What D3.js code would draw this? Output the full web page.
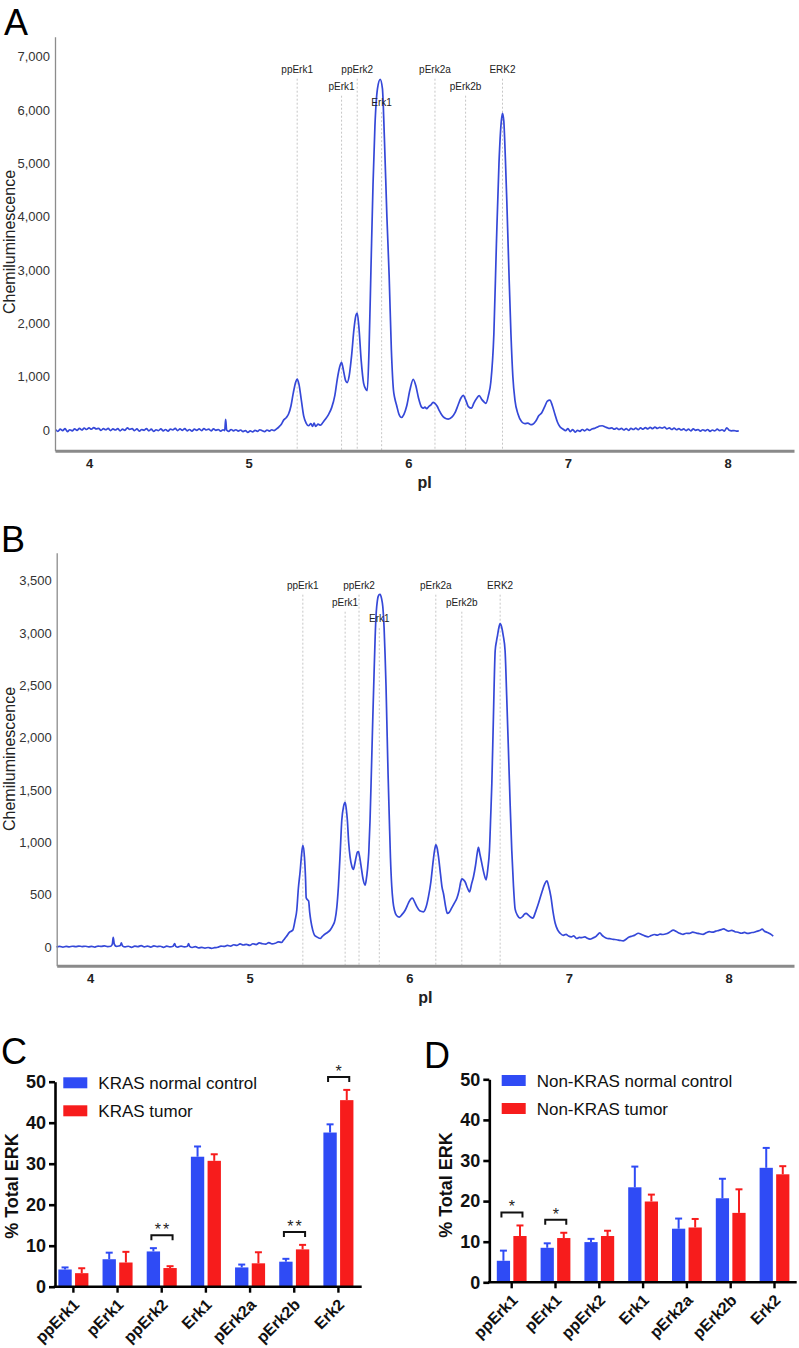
<!DOCTYPE html>
<html><head><meta charset="utf-8">
<script src="https://cdn.jsdelivr.net/npm/d3@7"></script>
<style>body{margin:0;background:#fff} svg{display:block}</style>
</head><body><svg id="c" width="799" height="1348"></svg>
<script>
// ---------------- DATA ----------------
const markerNames = ["ppErk1","pErk1","ppErk2","Erk1","pErk2a","pErk2b","ERK2"];
const markerPI_A = [5.304,5.582,5.680,5.833,6.167,6.359,6.590];
const markerPI_B = [5.333,5.598,5.685,5.812,6.166,6.329,6.569];
const yTicksA = [0,1000,2000,3000,4000,5000,6000,7000];
const yTicksB = [0,500,1000,1500,2000,2500,3000,3500];
const xTicksPI = [4,5,6,7,8];

const traceA = [[3.79,10],[3.805,-25],[3.82,15],[3.835,-10],[3.85,25],[3.865,-30],[3.88,5],[3.895,-15],[3.91,20],[3.925,-5],[3.94,30],[3.955,0],[3.97,35],[3.985,10],[4.0,40],[4.015,15],[4.03,45],[4.045,20],[4.06,30],[4.075,-5],[4.09,25],[4.105,5],[4.12,30],[4.135,-10],[4.15,20],[4.165,0],[4.18,25],[4.195,-15],[4.21,15],[4.225,-5],[4.24,40],[4.255,10],[4.27,25],[4.285,-10],[4.3,20],[4.315,-20],[4.33,10],[4.345,-5],[4.36,25],[4.375,-15],[4.39,15],[4.405,-25],[4.42,5],[4.435,-10],[4.45,20],[4.465,-15],[4.48,10],[4.495,-20],[4.51,15],[4.525,0],[4.54,30],[4.555,-10],[4.57,20],[4.585,-5],[4.6,25],[4.615,-15],[4.63,10],[4.645,-20],[4.66,15],[4.675,-5],[4.69,20],[4.705,-10],[4.72,25],[4.735,0],[4.75,15],[4.765,-15],[4.78,20],[4.795,-5],[4.81,10],[4.825,-20],[4.84,5],[4.85,-10],[4.856,200],[4.862,0],[4.875,-25],[4.89,10],[4.905,-15],[4.92,5],[4.935,-20],[4.95,0],[4.965,-30],[4.98,-10],[4.995,-45],[5.01,-15],[5.025,-35],[5.04,-5],[5.055,-25],[5.07,5],[5.085,-15],[5.1,-30],[5.115,0],[5.13,-20],[5.145,5],[5.16,-10],[5.175,20],[5.19,60],
[5.205,110],[5.22,190],[5.235,230],[5.25,300],[5.265,450],[5.28,700],[5.295,900],[5.304,955],[5.315,860],[5.33,560],[5.345,260],[5.36,130],[5.375,80],[5.39,120],[5.4,70],[5.41,130],[5.42,70],[5.435,110],[5.45,90],[5.465,140],[5.48,200],[5.5,290],[5.52,420],[5.54,650],[5.555,950],[5.57,1180],[5.582,1270],[5.595,1100],[5.608,920],[5.617,890],[5.63,1020],[5.645,1400],[5.66,1900],[5.672,2150],[5.68,2190],[5.69,1950],[5.705,1300],[5.72,880],[5.735,760],[5.743,740],[5.754,1500],[5.766,3000],[5.779,4600],[5.791,5700],[5.807,6400],[5.824,6575],[5.838,6400],[5.85,5500],[5.866,4000],[5.88,2900],[5.894,1500],[5.907,750],[5.915,600],[5.927,460],[5.941,300],[5.957,235],[5.972,290],[5.99,450],[6.01,750],[6.031,950],[6.048,820],[6.064,600],[6.083,430],[6.095,410],[6.104,430],[6.115,400],[6.128,440],[6.142,470],[6.155,520],[6.167,500],[6.18,450],[6.195,360],[6.21,280],[6.226,230],[6.25,205],[6.273,240],[6.292,320],[6.311,460],[6.33,600],[6.344,650],[6.36,560],[6.376,440],[6.396,410],[6.41,500],[6.43,600],[6.444,645],[6.461,570],[6.477,520],[6.486,500],[6.502,650],[6.517,900],[6.536,1800],[6.552,3500],[6.568,5000],[6.583,5800],[6.59,5940],[6.598,5800],[6.608,5100],[6.617,4300],[6.63,3000],[6.643,1800],[6.655,1000],[6.668,560],[6.687,300],[6.71,155],[6.73,120],[6.749,130],[6.768,100],[6.78,110],[6.799,170],[6.818,270],[6.835,320],[6.856,450],[6.871,540],[6.887,560],[6.902,460],[6.918,300],[6.934,150],[6.95,60],[6.968,20],[6.985,-10],[7.0,25],[7.015,-30],[7.03,10],[7.045,-40],[7.06,-5],[7.075,-25],[7.09,10],[7.105,-15],[7.12,15],[7.135,-5],[7.15,20],[7.165,30],[7.18,50],[7.2,75],[7.215,80],[7.23,60],[7.245,45],[7.26,30],[7.275,40],[7.29,15],[7.305,35],[7.32,10],[7.335,30],[7.35,0],[7.365,25],[7.38,-5],[7.395,30],[7.41,10],[7.425,35],[7.44,5],[7.455,40],[7.47,15],[7.485,45],[7.5,20],[7.515,50],[7.53,25],[7.545,55],[7.56,30],[7.575,50],[7.59,35],[7.605,55],[7.62,20],[7.635,40],[7.65,10],[7.665,35],[7.68,5],[7.695,25],[7.71,0],[7.725,20],[7.74,-10],[7.755,15],[7.77,-15],[7.785,20],[7.8,-5],[7.815,10],[7.83,-20],[7.845,5],[7.86,-15],[7.875,10],[7.89,-25],[7.905,0],[7.92,-15],[7.935,15],[7.95,-10],[7.965,5],[7.98,-20],[7.995,40],[8.01,-5],[8.025,-15],[8.04,-10],[8.055,-20],[8.07,-15]];

const traceB = [[3.79,0],[3.81,5],[3.83,-3],[3.85,4],[3.87,0],[3.89,6],[3.91,2],[3.93,8],[3.95,3],[3.97,6],[3.99,0],[4.01,5],[4.03,-2],[4.05,8],[4.07,4],[4.09,10],[4.11,2],[4.13,6],[4.14,30],[4.145,90],[4.152,25],[4.165,5],[4.18,8],[4.19,15],[4.196,38],[4.203,10],[4.22,0],[4.24,6],[4.26,-4],[4.28,8],[4.3,2],[4.32,12],[4.34,0],[4.36,8],[4.38,-3],[4.4,10],[4.42,2],[4.44,6],[4.46,-4],[4.48,8],[4.5,0],[4.52,6],[4.53,32],[4.537,5],[4.55,-2],[4.57,8],[4.59,0],[4.61,6],[4.617,32],[4.624,4],[4.64,-6],[4.66,2],[4.68,-10],[4.7,-4],[4.72,-12],[4.74,-6],[4.76,-14],[4.78,-8],[4.8,-4],[4.82,8],[4.84,4],[4.86,14],[4.88,8],[4.9,20],[4.92,14],[4.94,28],[4.96,18],[4.98,24],[5.0,14],[5.02,30],[5.04,22],[5.06,38],[5.08,30],[5.1,26],[5.12,40],[5.14,28],[5.16,34],[5.18,48],[5.2,42],[5.21,60],[5.23,100],[5.25,140],[5.27,160],[5.285,260],[5.295,350],[5.305,560],[5.316,720],[5.325,880],[5.333,970],[5.343,860],[5.35,650],[5.354,470],[5.362,450],[5.369,440],[5.376,330],[5.383,250],[5.395,160],[5.405,115],[5.42,95],[5.442,80],[5.455,100],[5.462,110],[5.48,130],[5.504,160],[5.52,200],[5.535,260],[5.546,380],[5.556,580],[5.567,900],[5.577,1210],[5.588,1340],[5.598,1380],[5.605,1320],[5.612,1210],[5.62,1000],[5.629,860],[5.64,770],[5.65,740],[5.658,790],[5.667,860],[5.675,905],[5.681,910],[5.69,850],[5.698,770],[5.71,650],[5.723,590],[5.73,640],[5.738,740],[5.746,900],[5.754,1210],[5.762,1650],[5.771,2170],[5.779,2600],[5.786,2960],[5.793,3200],[5.8,3310],[5.808,3360],[5.817,3370],[5.826,3330],[5.834,3250],[5.842,3050],[5.848,2800],[5.854,2500],[5.859,2170],[5.867,1650],[5.875,1210],[5.882,850],[5.89,580],[5.898,430],[5.907,350],[5.92,300],[5.938,285],[5.955,310],[5.974,350],[5.995,420],[6.008,455],[6.02,465],[6.033,430],[6.047,385],[6.065,345],[6.089,335],[6.105,380],[6.12,480],[6.135,620],[6.148,800],[6.158,920],[6.166,975],[6.175,940],[6.183,860],[6.195,700],[6.205,570],[6.214,510],[6.228,380],[6.238,320],[6.25,330],[6.265,370],[6.283,420],[6.298,465],[6.312,540],[6.322,620],[6.329,650],[6.34,640],[6.35,620],[6.365,560],[6.377,525],[6.39,600],[6.402,670],[6.415,780],[6.426,900],[6.433,950],[6.443,880],[6.454,800],[6.468,700],[6.481,640],[6.492,750],[6.502,920],[6.51,1250],[6.517,1560],[6.527,2200],[6.538,2830],[6.546,2920],[6.553,2980],[6.561,3050],[6.569,3090],[6.578,3060],[6.588,2980],[6.6,2830],[6.61,2400],[6.621,1880],[6.632,1350],[6.642,920],[6.652,600],[6.663,360],[6.678,300],[6.694,275],[6.71,290],[6.72,310],[6.732,320],[6.745,305],[6.76,285],[6.774,275],[6.79,330],[6.809,415],[6.83,520],[6.848,600],[6.862,630],[6.873,580],[6.887,480],[6.9,340],[6.914,225],[6.93,160],[6.945,130],[6.965,110],[6.982,120],[6.997,103],[7.015,95],[7.03,105],[7.049,80],[7.065,90],[7.08,88],[7.1,96],[7.115,82],[7.132,74],[7.15,85],[7.17,100],[7.185,125],[7.194,135],[7.205,115],[7.22,95],[7.236,82],[7.255,78],[7.278,72],[7.3,68],[7.32,62],[7.34,58],[7.355,70],[7.372,90],[7.39,100],[7.41,110],[7.435,130],[7.455,118],[7.475,105],[7.497,96],[7.515,108],[7.535,118],[7.555,112],[7.571,122],[7.59,118],[7.61,125],[7.63,140],[7.654,160],[7.67,150],[7.685,135],[7.696,129],[7.715,120],[7.735,130],[7.755,128],[7.775,140],[7.8,132],[7.82,125],[7.84,119],[7.86,135],[7.88,145],[7.9,140],[7.92,150],[7.94,158],[7.955,165],[7.97,172],[7.985,160],[8.0,150],[8.02,158],[8.04,145],[8.06,140],[8.08,130],[8.1,138],[8.12,128],[8.14,135],[8.16,140],[8.18,150],[8.2,160],[8.21,170],[8.225,150],[8.24,140],[8.26,125],[8.28,103]];

const categories = ["ppErk1","pErk1","ppErk2","Erk1","pErk2a","pErk2b","Erk2"];
const barTicks = [0,10,20,30,40,50];
const krasNormal     = [4.2, 6.7, 8.6, 31.7, 4.7, 6.1, 37.6];
const krasNormalErr  = [0.5, 1.6, 0.8, 2.5, 0.7, 0.7, 2.0];
const krasTumor      = [3.3, 5.9, 4.55, 30.7, 5.7, 9.1, 45.5];
const krasTumorErr   = [1.2, 2.6, 0.45, 1.6, 2.7, 1.1, 2.5];
const nonNormal      = [5.3, 8.5, 9.9, 23.4, 13.2, 20.7, 28.2];
const nonNormalErr   = [2.5, 1.1, 0.8, 5.1, 2.5, 4.8, 4.9];
const nonTumor       = [11.4, 10.9, 11.4, 19.9, 13.5, 17.1, 26.6];
const nonTumorErr    = [2.6, 1.3, 1.3, 1.7, 2.1, 5.8, 2.0];
const sigC = [["ppErk2","**"],["pErk2b","**"],["Erk2","*"]];
const sigD = [["ppErk1","*"],["pErk1","*"]];

// ---------------- LAYOUT / STYLE ----------------
const FONT = '"Liberation Sans", Arial, Helvetica, sans-serif';
const BLUE = "#2f4bf5", RED = "#f71c1c", TRACE = "#3548d8";
const labelRows = [0,1,0,2,0,1,0];
const rowOffsets = [36, 53, 69.5];
const svg = d3.select("#c");

function panelLetter(t, x, y){
  svg.append("text").attr("x",x).attr("y",y).text(t)
    .attr("font-family",FONT).attr("font-size",36).attr("fill","#000");
}

function drawTrace(cfg){
  const g = svg.append("g");
  const x = d3.scaleLinear().domain(cfg.xDom).range(cfg.xRng);
  const y = d3.scaleLinear().domain(cfg.yDom).range(cfg.yRng);
  const yBottom = cfg.yRng[0], yTop = cfg.yRng[1];
  markerNames.forEach((n,i)=>{
    const px = x(cfg.markers[i]);
    const base = yTop + rowOffsets[labelRows[i]];
    g.append("line").attr("x1",px).attr("x2",px).attr("y1",base+6).attr("y2",yBottom)
      .attr("stroke","#c6c6c6").attr("stroke-width",1).attr("stroke-dasharray","2,2");
  });
  const line = d3.line().x(d=>x(d[0])).y(d=>y(d[1])).curve(d3.curveMonotoneX);
  g.append("path").datum(cfg.data).attr("d",line).attr("fill","none")
    .attr("stroke",TRACE).attr("stroke-width",1.7).attr("stroke-linejoin","round");
  markerNames.forEach((n,i)=>{
    const px = x(cfg.markers[i]);
    const base = yTop + rowOffsets[labelRows[i]];
    g.append("text").attr("x",px).attr("y",base).attr("text-anchor","middle")
      .attr("font-family",FONT).attr("font-size",10).attr("fill","#222").text(n);
  });
  const ya = g.append("g").attr("transform",`translate(${cfg.xRng[0]},0)`)
    .call(d3.axisLeft(y).tickValues(cfg.yTicks).tickSize(0).tickPadding(5).tickFormat(d3.format(",")));
  ya.select(".domain").attr("stroke","#8c8c8c").attr("stroke-width",1.3);
  ya.selectAll("text").attr("font-family",FONT).attr("font-size",13).attr("fill","#333");
  const xa = g.append("g").attr("transform",`translate(0,${yBottom})`)
    .call(d3.axisBottom(x).tickValues(xTicksPI).tickSize(0).tickPadding(8).tickFormat(d3.format("d")));
  xa.select(".domain").attr("stroke","#8a8a8a").attr("stroke-width",3);
  xa.selectAll("text").attr("font-family",'"Liberation Sans Narrow", '+FONT).attr("font-weight","bold")
    .attr("font-size",13).attr("fill","#222");
  g.append("text").attr("x",(cfg.xRng[0]+cfg.xRng[1])/2).attr("y",yBottom+37)
    .attr("text-anchor","middle").attr("font-family",FONT).attr("font-weight","bold")
    .attr("font-size",16).attr("fill","#222").text("pI");
  g.append("text").attr("transform",`translate(14.5,${cfg.yLabelY}) rotate(-90)`)
    .attr("text-anchor","middle").attr("font-family",FONT).attr("font-size",16)
    .attr("fill","#222").text("Chemiluminescence");
}

function drawBars(cfg){
  const g = svg.append("g");
  const x = d3.scaleBand().domain(categories).range(cfg.xRng).paddingInner(0.32).paddingOuter(0.16);
  const xs = d3.scaleBand().domain([0,1]).range([0,x.bandwidth()]).paddingInner(0.2);
  const y = d3.scaleLinear().domain([0,50]).range(cfg.yRng);
  const series = [
    {vals:cfg.normal, errs:cfg.normalErr, color:BLUE},
    {vals:cfg.tumor, errs:cfg.tumorErr, color:RED}
  ];
  series.forEach((s,si)=>{
    categories.forEach((c,i)=>{
      const bx = x(c)+xs(si), bw = xs.bandwidth(), cx = bx+bw/2;
      g.append("line").attr("x1",cx).attr("x2",cx).attr("y1",y(s.vals[i])).attr("y2",y(s.vals[i]+s.errs[i]))
        .attr("stroke",s.color).attr("stroke-width",2);
      g.append("line").attr("x1",cx-3.5).attr("x2",cx+3.5).attr("y1",y(s.vals[i]+s.errs[i])).attr("y2",y(s.vals[i]+s.errs[i]))
        .attr("stroke",s.color).attr("stroke-width",2);
      g.append("rect").attr("x",bx).attr("width",bw).attr("y",y(s.vals[i])).attr("height",y(0)-y(s.vals[i]))
        .attr("fill",s.color);
    });
  });
  cfg.sig.forEach(([c,lab])=>{
    const i = categories.indexOf(c);
    const top = Math.max(cfg.normal[i]+cfg.normalErr[i], cfg.tumor[i]+cfg.tumorErr[i]);
    const ly = y(top) - 13;
    const c0 = x(c)+xs(0)+xs.bandwidth()/2 - 2, c1 = x(c)+xs(1)+xs.bandwidth()/2 + 2.5;
    g.append("path").attr("d",`M${c0},${ly+5}V${ly}H${c1}V${ly+5}`).attr("fill","none")
      .attr("stroke","#111").attr("stroke-width",2);
    g.append("text").attr("x",(c0+c1)/2 + (lab.length>1?1:0)).attr("y",ly).attr("text-anchor","middle")
      .attr("font-family",FONT).attr("font-size",16).attr("letter-spacing",lab.length>1?"2px":"0").attr("fill","#222").text(lab);
  });
  const ya = g.append("g").attr("transform",`translate(${cfg.axisX},0)`)
    .call(d3.axisLeft(y).tickValues(barTicks).tickSizeInner(6).tickSizeOuter(0).tickPadding(3));
  ya.selectAll("path,line").attr("stroke","#000").attr("stroke-width",2.6);
  ya.selectAll("text").attr("font-family",FONT).attr("font-weight","bold").attr("font-size",18).attr("fill","#111");
  const xa = g.append("g").attr("transform",`translate(0,${y(0)})`)
    .call(d3.axisBottom(x).tickSizeInner(6).tickSizeOuter(0).tickFormat(""));
  xa.select(".domain").remove();
  xa.selectAll("line").attr("stroke","#000").attr("stroke-width",2.4);
  g.append("line").attr("x1",cfg.axisX-1.3).attr("x2",cfg.xEnd).attr("y1",y(0)).attr("y2",y(0))
    .attr("stroke","#000").attr("stroke-width",2.6);
  categories.forEach(c=>{
    const cx = x(c)+x.bandwidth()/2;
    g.append("text").attr("transform",`translate(${cx+7},${y(0)+19}) rotate(-45)`)
      .attr("text-anchor","end").attr("font-family",FONT).attr("font-weight","bold")
      .attr("font-size",16).attr("fill","#111").text(c);
  });
  g.append("text").attr("transform",`translate(${cfg.axisX-37},${cfg.yLabelY}) rotate(-90)`)
    .attr("text-anchor","middle").attr("font-family",FONT).attr("font-weight","bold")
    .attr("font-size",18).attr("fill","#111").text("% Total ERK");
  cfg.legend.forEach((t,i)=>{
    const ly = cfg.legY + i*28;
    g.append("rect").attr("x",cfg.legX).attr("y",ly).attr("width",24).attr("height",11)
      .attr("fill",i===0?BLUE:RED);
    g.append("text").attr("x",cfg.legX+35).attr("y",ly+12).attr("font-family",FONT)
      .attr("font-size",17).attr("fill","#111").text(t);
  });
}

panelLetter("A", 4, 35);
drawTrace({data:traceA, markers:markerPI_A, yTicks:yTicksA,
  xDom:[3.787,8.416], xRng:[55,794], yDom:[-388,7375], yRng:[450.7,36.7], yLabelY:242});
panelLetter("B", 1, 552);
drawTrace({data:traceB, markers:markerPI_B, yTicks:yTicksB,
  xDom:[3.791,8.41], xRng:[56.7,794], yDom:[-180,3767], yRng:[965.7,552.7], yLabelY:759});
panelLetter("C", 1, 1064);
drawBars({normal:krasNormal, normalErr:krasNormalErr, tumor:krasTumor, tumorErr:krasTumorErr,
  sig:sigC, xRng:[51.3,360.5], xEnd:361.7, axisX:55, yRng:[1286.7,1081.7], yLabelY:1186,
  legend:["KRAS normal control","KRAS tumor"], legX:63.3, legY:1077.3});
panelLetter("D", 424, 1068);
drawBars({normal:nonNormal, normalErr:nonNormalErr, tumor:nonTumor, tumorErr:nonTumorErr,
  sig:sigD, xRng:[489.8,796.4], xEnd:796.7, axisX:489.3, yRng:[1282.3,1079.3], yLabelY:1185,
  legend:["Non-KRAS normal control","Non-KRAS tumor"], legX:501.7, legY:1075});
</script></body></html>
